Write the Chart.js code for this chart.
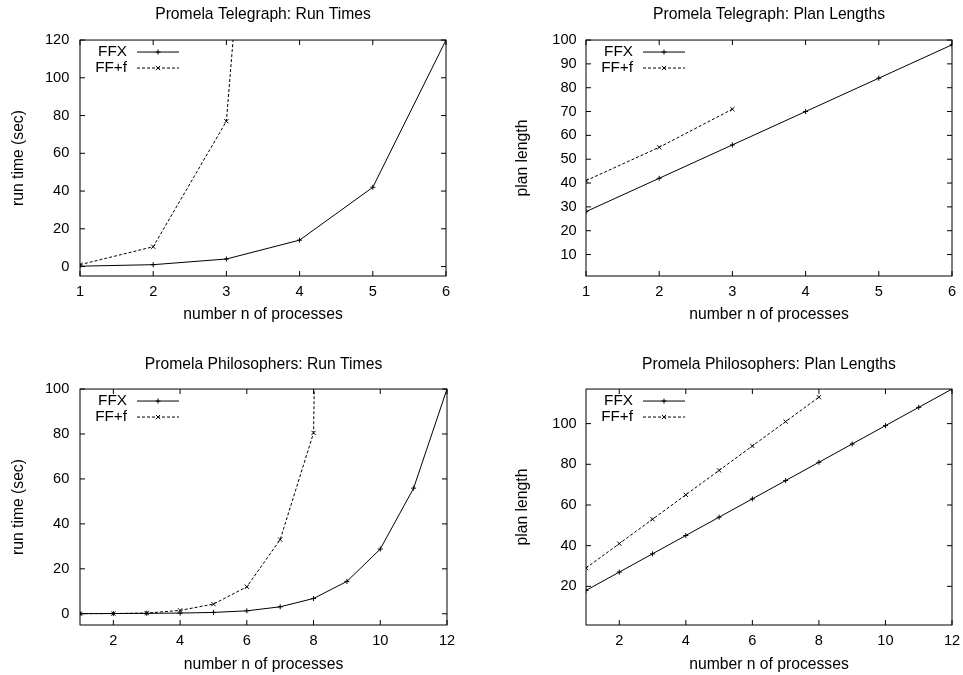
<!DOCTYPE html>
<html>
<head>
<meta charset="utf-8">
<script src="https://cdn.jsdelivr.net/npm/chart.js@4.4.1/dist/chart.umd.min.js"></script>
<style>
  html, body { margin: 0; padding: 0; background: #fff; }
  #wrap { position: relative; width: 963px; height: 675px; }
  .q { position: absolute; }
</style>
</head>
<body>
<div id="wrap">
  <div class="q" style="left:0;top:0;width:481px;height:337px"><canvas id="telegraphTime"></canvas></div>
  <div class="q" style="left:481px;top:0;width:482px;height:337px"><canvas id="telegraphPlan"></canvas></div>
  <div class="q" style="left:0;top:337px;width:481px;height:338px"><canvas id="philosTime"></canvas></div>
  <div class="q" style="left:481px;top:337px;width:482px;height:338px"><canvas id="philosPlan"></canvas></div>
</div>
<script>
// number of processes
const telegraphN = [1, 2, 3, 4, 5, 6];
const philosN = [1, 2, 3, 4, 5, 6, 7, 8, 9, 10, 11, 12];

// Promela Telegraph
const telegraphTimeFFX = [0.2, 1, 4, 14, 42, 120];
const telegraphTimeFFf = [1, 10.5, 77, 550];
const telegraphPlanFFX = [28, 42, 56, 70, 84, 98];
const telegraphPlanFFf = [41, 55, 71];

// Promela Philosophers
const philosTimeFFX = [0.05, 0.1, 0.2, 0.3, 0.6, 1.3, 3.1, 6.8, 14.4, 28.8, 55.9, 100];
const philosTimeFFf = [0.05, 0.1, 0.3, 1.5, 4.3, 12, 33, 80.5, 1000];
const philosPlanFFX = [18, 27, 36, 45, 54, 63, 72, 81, 90, 99, 108, 117];
const philosPlanFFf = [29, 41, 53, 65, 77, 89, 101, 113];

// tick labels
const telegraphNTicks = [1, 2, 3, 4, 5, 6];
const philosNTicks = [2, 4, 6, 8, 10, 12];
const telegraphTimeTicks = [0, 20, 40, 60, 80, 100, 120];
const telegraphPlanTicks = [10, 20, 30, 40, 50, 60, 70, 80, 90, 100];
const philosTimeTicks = [0, 20, 40, 60, 80, 100];
const philosPlanTicks = [20, 40, 60, 80, 100];

const FONT = '"Liberation Sans", Arial, Helvetica, sans-serif';
Chart.defaults.font.family = FONT;
Chart.defaults.font.size = 14.6;
Chart.defaults.color = '#000';

function pts(xs, ys) {
  return ys.map((v, i) => ({ x: xs[i], y: v }));
}

function drawMark(ctx, style, x, y, r) {
  ctx.beginPath();
  if (style === 'crossRot') {
    const d = r * Math.SQRT1_2;
    ctx.moveTo(x - d, y - d); ctx.lineTo(x + d, y + d);
    ctx.moveTo(x - d, y + d); ctx.lineTo(x + d, y - d);
  } else {
    ctx.moveTo(x - r, y); ctx.lineTo(x + r, y);
    ctx.moveTo(x, y - r); ctx.lineTo(x, y + r);
  }
  ctx.stroke();
}

// gnuplot-like frame, inward mirrored ticks and key
const frame = {
  id: 'frame',
  afterDatasetsDraw(chart) {
    const { ctx, chartArea: a, scales: { x, y } } = chart;
    ctx.save();
    ctx.strokeStyle = '#000';
    ctx.lineWidth = 1;
    ctx.strokeRect(a.left, a.top, a.right - a.left, a.bottom - a.top);
    ctx.beginPath();
    x.ticks.forEach(t => {
      const px = x.getPixelForValue(t.value);
      ctx.moveTo(px, a.bottom); ctx.lineTo(px, a.bottom - 5);
      ctx.moveTo(px, a.top); ctx.lineTo(px, a.top + 5);
    });
    y.ticks.forEach(t => {
      const py = y.getPixelForValue(t.value);
      ctx.moveTo(a.left, py); ctx.lineTo(a.left + 5, py);
      ctx.moveTo(a.right, py); ctx.lineTo(a.right - 5, py);
    });
    ctx.stroke();

    ctx.font = '15.3px ' + FONT;
    ctx.fillStyle = '#000';
    ctx.textAlign = 'right';
    ctx.textBaseline = 'middle';
    chart.data.datasets.forEach((ds, i) => {
      const ly = a.top + 12 + i * 16;
      ctx.fillText(ds.label, a.left + 47, ly);
      ctx.setLineDash(ds.borderDash || []);
      ctx.beginPath();
      ctx.moveTo(a.left + 57, ly);
      ctx.lineTo(a.left + 99, ly);
      ctx.stroke();
      ctx.setLineDash([]);
      drawMark(ctx, ds.pointStyle, a.left + 78, ly, ds.pointRadius);
    });
    ctx.restore();
  }
};

function makeChart(id, o) {
  new Chart(document.getElementById(id), {
    type: 'line',
    data: {
      datasets: [
        {
          label: 'FFX',
          data: pts(o.xs, o.ffx),
          borderColor: '#000', borderWidth: 1,
          pointStyle: 'cross', pointRadius: 2.5, pointBorderWidth: 1,
          pointBorderColor: '#000', tension: 0
        },
        {
          label: 'FF+f',
          data: pts(o.xs, o.fff),
          borderColor: '#000', borderWidth: 1, borderDash: [3, 2],
          pointStyle: 'crossRot', pointRadius: 3, pointBorderWidth: 1,
          pointBorderColor: '#000', tension: 0
        }
      ]
    },
    options: {
      responsive: true,
      maintainAspectRatio: false,
      animation: false,
      events: [],
      layout: { padding: { left: 0, top: 0, bottom: 0, right: o.padRight } },
      plugins: {
        legend: { display: false },
        tooltip: { enabled: false },
        title: {
          display: true,
          text: o.title,
          fullSize: false,
          font: { size: 15.7, weight: 'normal' },
          padding: { top: o.titleTop, bottom: o.titleBottom }
        }
      },
      scales: {
        x: {
          type: 'linear',
          min: o.xMin, max: o.xMax,
          afterBuildTicks: s => { s.ticks = o.xTicks.map(v => ({ value: v })); },
          afterFit: s => { s.height = o.xHeight; s.paddingLeft = 0; s.paddingRight = 0; },
          grid: { display: false, drawTicks: false },
          border: { display: false },
          ticks: { padding: 7.5, autoSkip: false, maxRotation: 0 },
          title: {
            display: true, text: 'number n of processes',
            font: { size: 15.7 },
            padding: { top: 0, bottom: o.xTitleBottom }
          }
        },
        y: {
          type: 'linear',
          min: o.yMin, max: o.yMax,
          afterBuildTicks: s => { s.ticks = o.yTicks.map(v => ({ value: v })); },
          afterFit: s => { s.width = o.yWidth; },
          grid: { display: false, drawTicks: false },
          border: { display: false },
          ticks: { padding: o.yTickPad, autoSkip: false },
          title: {
            display: true, text: o.yTitle,
            font: { size: 15.7 },
            padding: { top: o.yTitleTop, bottom: 0 }
          }
        }
      }
    },
    plugins: [frame]
  });
}

makeChart('telegraphTime', {
  title: 'Promela Telegraph: Run Times', yTitle: 'run time (sec)',
  xs: telegraphN, ffx: telegraphTimeFFX, fff: telegraphTimeFFf,
  xMin: 1, xMax: 6, xTicks: telegraphNTicks,
  yMin: -5, yMax: 120, yTicks: telegraphTimeTicks,
  padRight: 35, titleTop: 5.6, titleBottom: 15.6,
  xHeight: 61, xTitleBottom: 12.6, yWidth: 80, yTickPad: 10.7, yTitleTop: 8.9
});

makeChart('telegraphPlan', {
  title: 'Promela Telegraph: Plan Lengths', yTitle: 'plan length',
  xs: telegraphN, ffx: telegraphPlanFFX, fff: telegraphPlanFFf,
  xMin: 1, xMax: 6, xTicks: telegraphNTicks,
  yMin: 1, yMax: 100, yTicks: telegraphPlanTicks,
  padRight: 11, titleTop: 5.6, titleBottom: 15.6,
  xHeight: 61, xTitleBottom: 12.6, yWidth: 105, yTickPad: 9.3, yTitleTop: 32.1
});

makeChart('philosTime', {
  title: 'Promela Philosophers: Run Times', yTitle: 'run time (sec)',
  xs: philosN, ffx: philosTimeFFX, fff: philosTimeFFf,
  xMin: 1, xMax: 12, xTicks: philosNTicks,
  yMin: -5, yMax: 100, yTicks: philosTimeTicks,
  padRight: 34, titleTop: 17.9, titleBottom: 15.3,
  xHeight: 50, xTitleBottom: 0.5, yWidth: 80, yTickPad: 10.7, yTitleTop: 8.9
});

makeChart('philosPlan', {
  title: 'Promela Philosophers: Plan Lengths', yTitle: 'plan length',
  xs: philosN, ffx: philosPlanFFX, fff: philosPlanFFf,
  xMin: 1, xMax: 12, xTicks: philosNTicks,
  yMin: 1, yMax: 117, yTicks: philosPlanTicks,
  padRight: 11, titleTop: 17.9, titleBottom: 15.3,
  xHeight: 50, xTitleBottom: 0.5, yWidth: 105, yTickPad: 9.3, yTitleTop: 32.1
});
</script>
</body>
</html>
